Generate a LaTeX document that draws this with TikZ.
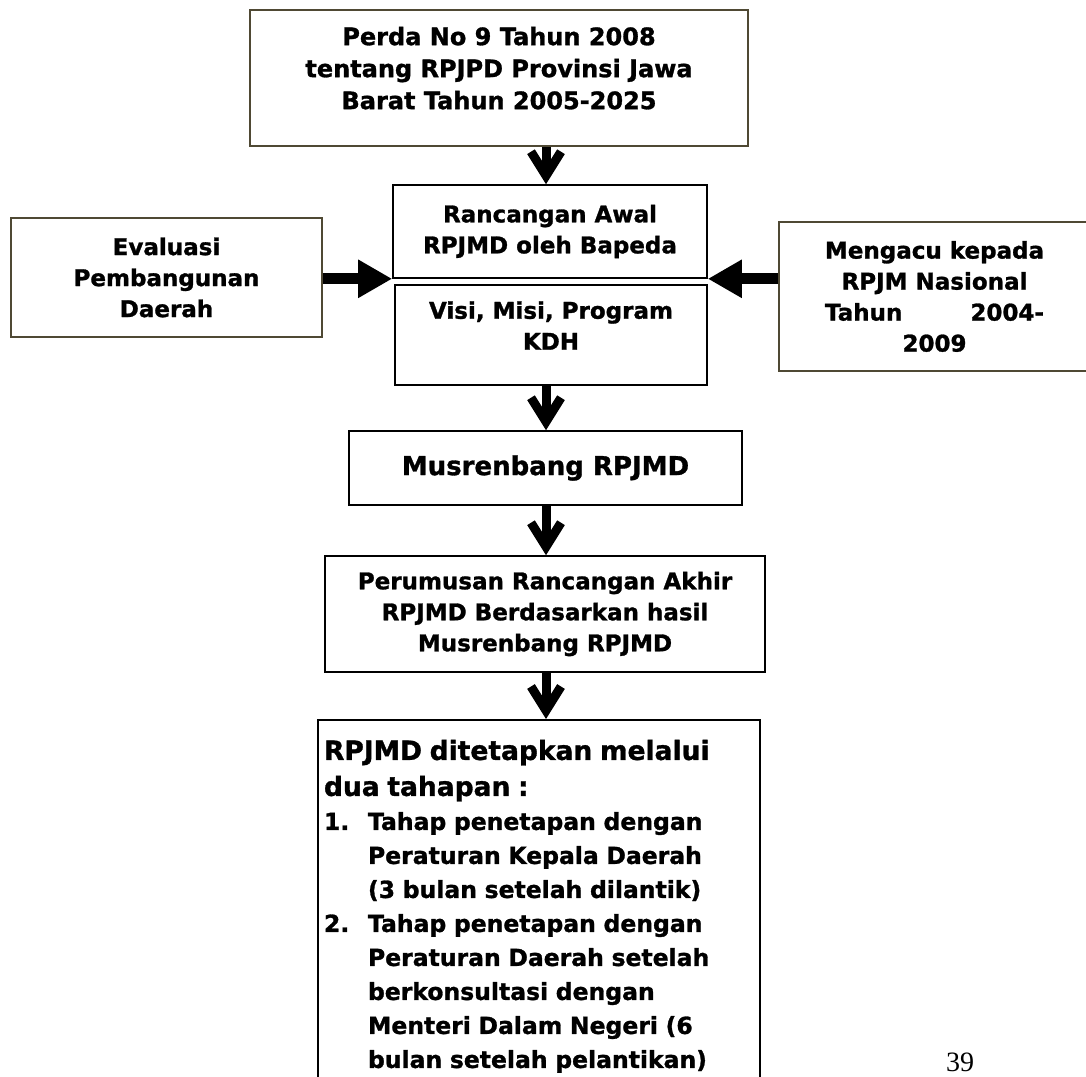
\documentclass[tikz,border=0pt]{standalone}
\usepackage{fontspec}
\setmainfont{DejaVu Sans}[BoldFeatures={FakeBold=1.2}]
\newfontfamily\pagefont{Liberation Serif}
\usetikzlibrary{arrows.meta}

\definecolor{boxolive}{RGB}{79,73,52}

\tikzset{
	box/.style={draw, line width=1.6pt, align=center, inner sep=0pt, font=\bfseries\fontsize{23}{31}\selectfont},
	bigbox/.style={box, font=\bfseries\fontsize{26}{34}\selectfont},
	downarrow/.style={line width=9pt, -{Straight Barb[length=24pt,width=30pt]}},
	sidearrow/.style={line width=11pt, -{Triangle[length=34pt,width=36pt]}}
}

\begin{document}
\begin{tikzpicture}[x=1pt,y=-1pt]
		\useasboundingbox (0,0) rectangle (1086,1076);
		\clip (0,0) rectangle (1086,1076);
		\coordinate (spine) at (546,0);

		\node[box, draw=boxolive, minimum width=498pt, minimum height=136pt, font=\bfseries\fontsize{24}{32}\selectfont] (perda) at (499,78) {Perda No 9 Tahun 2008\\tentang RPJPD Provinsi Jawa\\Barat Tahun 2005-2025\\[-12pt]{}};
		\node[box, minimum width=314pt, minimum height=93pt] (rancangan) at (550,231.5) {Rancangan Awal\\RPJMD oleh Bapeda};
		\node[box, minimum width=312pt, minimum height=100pt] (visi) at (551,335) {Visi, Misi, Program\\KDH\\[-12pt]{}};
		\node[box, draw=boxolive, minimum width=311pt, minimum height=119pt] (evaluasi) at (166.5,277.5) {Evaluasi\\Pembangunan\\Daerah};
		\node[box, draw=boxolive, minimum width=311pt, minimum height=149pt] (mengacu) at (934.5,296.5) {Mengacu kepada\\RPJM Nasional\\\makebox[219pt][s]{Tahun 2004-}\\2009};
		\node[bigbox, minimum width=393pt, minimum height=74pt] (musrenbang) at (545.5,468) {Musrenbang RPJMD};
		\node[box, minimum width=440pt, minimum height=116pt] (perumusan) at (545,614) {Perumusan Rancangan Akhir\\RPJMD Berdasarkan hasil\\Musrenbang RPJMD};
		% last box runs off the page
		\node[box, anchor=north, align=left, text width=430pt, inner xsep=6pt, inner ysep=20pt] (final) at (539,719) {%
			{\fontsize{26.5}{36}\selectfont RPJMD ditetapkan melalui\\dua tahapan :\par}%
			{\fontsize{23.5}{34}\selectfont
			\makebox[44pt][l]{1.}Tahap penetapan dengan\\
			\hspace*{44pt}Peraturan Kepala Daerah\\
			\hspace*{44pt}(3 bulan setelah dilantik)\\
			\makebox[44pt][l]{2.}Tahap penetapan dengan\\
			\hspace*{44pt}Peraturan Daerah setelah\\
			\hspace*{44pt}berkonsultasi dengan\\
			\hspace*{44pt}Menteri Dalam Negeri (6\\
			\hspace*{44pt}bulan setelah pelantikan)\par}};

		\draw[downarrow] (perda.south -| spine) -- (rancangan.north -| spine);
		\draw[downarrow] (visi.south -| spine) -- (musrenbang.north -| spine);
		\draw[downarrow] (musrenbang.south -| spine) -- (perumusan.north -| spine);
		\draw[downarrow] (perumusan.south -| spine) -- (final.north -| spine);
		\draw[sidearrow] (evaluasi.east |- rancangan.south west) -- (rancangan.south west);
		\draw[sidearrow] (mengacu.west |- rancangan.south east) -- (rancangan.south east);

		\node[font=\pagefont\fontsize{28}{30}\selectfont, anchor=base] (pagenum) at (960,1071) {39};
	\end{tikzpicture}
\end{document}
